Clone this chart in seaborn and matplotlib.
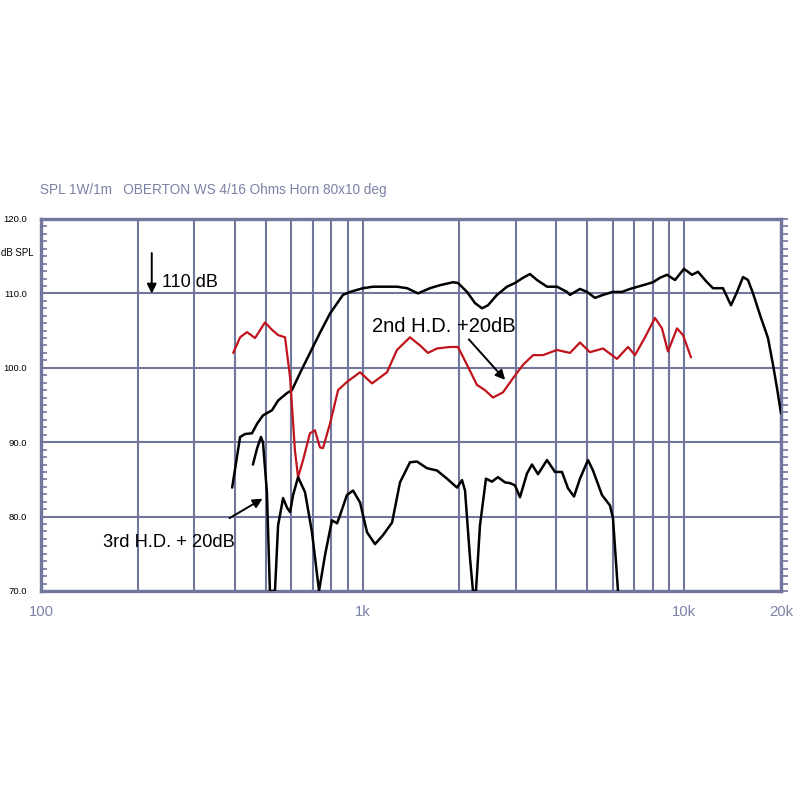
import numpy as np
import pandas as pd
import matplotlib
matplotlib.use("Agg")
import matplotlib.pyplot as plt
from matplotlib import font_manager
import seaborn as sns

# ---------------- data ----------------
spl_freq = [393, 416, 431, 453, 470, 490, 523, 546, 582, 603, 639, 686, 737, 792,
            869, 914, 1003, 1077, 1157, 1279, 1375, 1487, 1620, 1740, 1910, 1980,
            2112, 2236, 2351, 2454, 2617, 2812, 2978, 3154, 3315, 3486, 3745, 4023,
            4321, 4415, 4742, 4986, 5280, 5591, 6005, 6406, 6784, 7446, 7998, 8408,
            8841, 9363, 9986, 10576, 11040, 11775, 12290, 13200, 13980, 14600, 15240,
            15790, 16370, 17210, 18220, 18890, 19430, 20000]
spl_db = [83.9, 90.7, 91.1, 91.2, 92.5, 93.6, 94.3, 95.6, 96.6, 97.0, 99.3, 102.0, 104.7, 107.3,
          109.8, 110.2, 110.7, 110.9, 110.9, 110.9, 110.7, 110.0, 110.7, 111.1, 111.5, 111.4,
          110.2, 108.7, 108.0, 108.4, 109.8, 110.9, 111.4, 112.1, 112.6, 111.8, 110.9, 110.9,
          110.2, 109.8, 110.6, 110.2, 109.4, 109.8, 110.2, 110.2, 110.6, 111.1, 111.5, 112.1,
          112.5, 111.8, 113.3, 112.5, 112.9, 111.5, 110.7, 110.7, 108.4, 110.2, 112.2,
          111.8, 110.0, 107.1, 104.0, 100.4, 97.3, 93.9]

hd2_freq = [396, 416, 437, 463, 497, 523, 546, 574, 595, 616, 630, 653, 686, 711, 737, 753,
            792, 839, 894, 982, 1070, 1191, 1279, 1404, 1509, 1597, 1703, 1870, 1980, 2112,
            2268, 2402, 2543, 2732, 2935, 3154, 3388, 3639, 4023, 4415, 4742, 5094, 5591,
            6180, 6688, 7031, 7553, 8113, 8530, 8904, 9498, 9915, 10500]
hd2_db = [102.0, 104.1, 104.8, 104.0, 106.1, 105.1, 104.4, 104.1, 98.7, 88.9, 85.3, 87.6, 91.2,
          91.6, 89.3, 89.2, 92.5, 97.0, 98.1, 99.4, 97.9, 99.4, 102.4, 104.1, 103.0, 102.0,
          102.6, 102.8, 102.8, 100.4, 97.7, 97.0, 96.0, 96.7, 98.6, 100.4, 101.7, 101.7, 102.4,
          102.0, 103.4, 102.1, 102.6, 101.2, 102.8, 101.7, 104.1, 106.7, 105.3, 102.2, 105.3,
          104.4, 101.4]

hd3_freq = [456, 470, 483, 490, 504, 515, 534, 546, 566, 582, 595, 608, 630, 662, 696, 732,
            764, 803, 833, 851, 894, 934, 982, 1032, 1093, 1157, 1235, 1307, 1404, 1476, 1586,
            1703, 1830, 1966, 2038, 2082, 2158, 2204, 2252, 2317, 2419, 2525, 2636, 2772, 2873,
            2978, 3086, 3245, 3363, 3511, 3745, 3966, 4169, 4352, 4543, 4742, 5022, 5205, 5551,
            5878, 6005, 6225]
hd3_db = [87.0, 89.2, 90.7, 90.0, 83.3, 70.0, 70.0, 78.8, 82.5, 81.2, 80.6, 82.9, 85.3, 83.3,
          77.9, 70.0, 74.8, 79.5, 79.1, 80.2, 82.9, 83.5, 81.9, 77.9, 76.3, 77.5, 79.2, 84.6,
          87.3, 87.4, 86.5, 86.2, 85.1, 83.9, 84.9, 83.5, 74.4, 70.0, 70.0, 78.8, 85.1, 84.7,
          85.3, 84.6, 84.5, 84.2, 82.6, 85.8, 87.0, 85.7, 87.6, 86.0, 86.0, 83.8, 82.7, 85.1,
          87.6, 86.2, 82.9, 81.5, 79.8, 70.0]

y_ticks = [70, 80, 90, 100, 110, 120]
y_tick_labels = ["70.0", "80.0", "90.0", "100.0", "110.0", "120.0"]
x_ticks = [100, 1000, 10000, 20000]
x_tick_labels = ["100", "1k", "10k", "20k"]

title_text = "SPL 1W/1m   OBERTON WS 4/16 Ohms Horn 80x10 deg"
# ----------------------------------------------------------------

sns.set_theme(style="white")
plt.rcParams["font.family"] = ["Liberation Sans", "DejaVu Sans"]

available = {f.name for f in font_manager.fontManager.ttflist}
if "Liberation Sans Narrow" in available:
    NARROW = ["Liberation Sans Narrow", "Liberation Sans", "DejaVu Sans"]
    k = 1.0
else:
    NARROW = ["Liberation Sans", "DejaVu Sans"]
    k = 0.82

GRID = "#70769c"
TXT = "#7b82a6"

fig = plt.figure(figsize=(8, 8), dpi=100)
ax = fig.add_axes([41 / 800, 1 - 591 / 800, 740 / 800, 372 / 800])

df_spl = pd.DataFrame({"f": spl_freq, "db": spl_db})
df_hd2 = pd.DataFrame({"f": hd2_freq, "db": hd2_db})
df_hd3 = pd.DataFrame({"f": hd3_freq, "db": hd3_db})

line_kw = dict(sort=False, estimator=None, zorder=5, solid_joinstyle="round", solid_capstyle="round")
sns.lineplot(data=df_spl, x="f", y="db", ax=ax, color="black", lw=1.8, **line_kw)
sns.lineplot(data=df_hd2, x="f", y="db", ax=ax, color="#c0131c", lw=1.6, **line_kw)
sns.lineplot(data=df_hd3, x="f", y="db", ax=ax, color="black", lw=1.8, **line_kw)

ax.set_xscale("log")
ax.set_xlim(100, 20000)
ax.set_ylim(70, 120)
ax.set_xlabel("")
ax.set_ylabel("")

minor_x = [m * d for d in (100, 1000) for m in range(2, 10)]
ax.set_xticks(x_ticks)
ax.set_xticklabels(x_tick_labels, family=NARROW, fontsize=13 * k, color=TXT)
ax.set_xticks(minor_x, minor=True)
ax.xaxis.set_minor_formatter(matplotlib.ticker.NullFormatter())
ax.set_yticks(y_ticks)
ax.set_yticklabels(y_tick_labels, family=NARROW, fontsize=8.3 * k, color="black")
ax.set_yticks(np.arange(70, 121, 1), minor=True)

ax.grid(axis="x", which="both", color=GRID, lw=1.5)
ax.grid(axis="y", which="major", color=GRID, lw=1.5)
ax.grid(axis="y", which="minor", visible=False)

for s in ax.spines.values():
    s.set_visible(True)
    s.set_color(GRID)
    s.set_linewidth(2.4)

ax.tick_params(axis="x", which="both", length=0, pad=10)
ax.tick_params(axis="y", which="both", direction="in", length=4, color=GRID, width=1.2,
               pad=10, left=True)

ax2 = ax.twinx()
ax2.set_ylim(70, 120)
ax2.set_yticks(np.arange(70, 121, 1))
ax2.tick_params(axis="y", direction="out", length=5, color=GRID, width=1.2, labelright=False)
for s in ax2.spines.values():
    s.set_visible(False)
ax2.grid(False)

# annotations
arrow_kw = dict(arrowstyle="-|>", color="black", lw=1.4, mutation_scale=14)
ax.annotate("", xy=(221, 109.6), xytext=(221, 115.8), arrowprops=arrow_kw, zorder=6)
ax.text(238, 111.4, "110 dB", fontsize=13, va="center", ha="left", color="black")

ax.annotate("", xy=(2812, 98.1), xytext=(2112, 104.1), arrowprops=arrow_kw, zorder=6)
ax.text(1070, 105.5, "2nd H.D. +20dB", fontsize=14.5, va="center", ha="left", color="black")

ax.annotate("", xy=(497, 82.6), xytext=(379, 79.6), arrowprops=arrow_kw, zorder=6)
ax.text(156, 76.5, "3rd H.D. + 20dB", fontsize=13.2, va="center", ha="left", color="black")

fig.text(40 / 800, 1 - 190 / 800, title_text, fontsize=12 * k, family=NARROW,
         color=TXT, ha="left", va="center")
fig.text(1 / 800, 1 - 253 / 800, "dB SPL", fontsize=8.5 * k, family=NARROW,
         color="black", ha="left", va="center")

fig.savefig("out.png", dpi=100, facecolor="white")
